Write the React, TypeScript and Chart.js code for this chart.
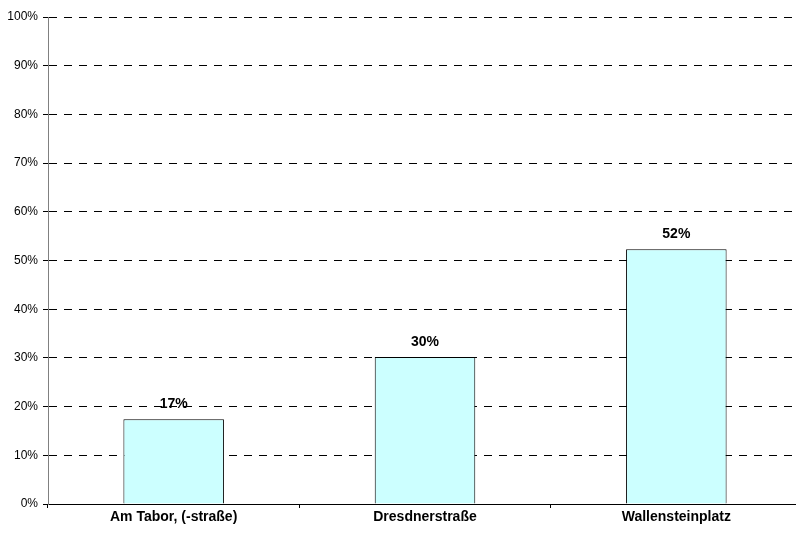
import React, { useEffect, useRef } from "react";
import { Chart, registerables } from "chart.js";

Chart.register(...registerables);

const categories = ["Am Tabor, (-straße)", "Dresdnerstraße", "Wallensteinplatz"];
const values = [17.4, 30.2, 52.3];
const valueLabels = ["17%", "30%", "52%"];
const yTicks = [0, 10, 20, 30, 40, 50, 60, 70, 80, 90, 100];

const FONT = "'Liberation Sans', Arial, sans-serif";

const labelPlugin = {
  id: "barLabels",
  afterDatasetsDraw(chart: any) {
    const ctx = chart.ctx;
    const meta = chart.getDatasetMeta(0);
    ctx.save();
    ctx.font = `bold 14px ${FONT}`;
    ctx.fillStyle = "#000";
    ctx.textAlign = "center";
    ctx.textBaseline = "alphabetic";
    meta.data.forEach((bar: any, i: number) => {
      ctx.fillText(valueLabels[i], bar.x, bar.y - 11);
    });
    ctx.restore();
  },
};

export default function App() {
  const ref = useRef<HTMLCanvasElement>(null);
  useEffect(() => {
    if (!ref.current) return;
    const chart = new Chart(ref.current, {
      type: "bar",
      data: {
        labels: categories,
        datasets: [
          {
            data: values,
            backgroundColor: "#CCFFFF",
            borderColor: "#000",
            borderWidth: 1,
            barPercentage: 0.4,
            categoryPercentage: 1,
          },
        ],
      },
      options: {
        responsive: false,
        animation: false,
        devicePixelRatio: 1,
        layout: { padding: { top: 17, right: 0, left: 0, bottom: 0 } },
        plugins: { legend: { display: false }, tooltip: { enabled: false } },
        scales: {
          x: {
            grid: {
              offset: true,
              drawOnChartArea: false,
              drawTicks: true,
              tickLength: 4,
              tickColor: "#000",
            },
            border: { display: true, color: "#000", width: 1 },
            ticks: {
              color: "#000",
              font: { family: FONT, size: 14, weight: "bold" },
              padding: 1,
            },
            afterFit: (s: any) => {
              s.height = 32;
            },
          },
          y: {
            min: 0,
            max: 100,
            afterBuildTicks: (s: any) => {
              s.ticks = yTicks.map((v) => ({ value: v }));
            },
            grid: {
              color: "#000",
              lineWidth: 1,
              tickLength: 5,
              tickColor: "#000",
              tickBorderDash: [],
            },
            border: { display: true, color: "#808080", width: 1, dash: [8, 7] },
            ticks: {
              color: "#000",
              font: { family: FONT, size: 12 },
              padding: 5,
              callback: (v: any) => `${v}%`,
            },
            afterFit: (s: any) => {
              s.width = 48;
            },
          },
        },
      },
      plugins: [labelPlugin],
    });
    return () => chart.destroy();
  }, []);
  return (
    <div
      style={{
        position: "fixed",
        left: 0,
        top: 0,
        width: 796,
        height: 536,
        overflow: "hidden",
        background: "#fff",
      }}
    >
      <canvas ref={ref} width={802} height={536} />
    </div>
  );
}
